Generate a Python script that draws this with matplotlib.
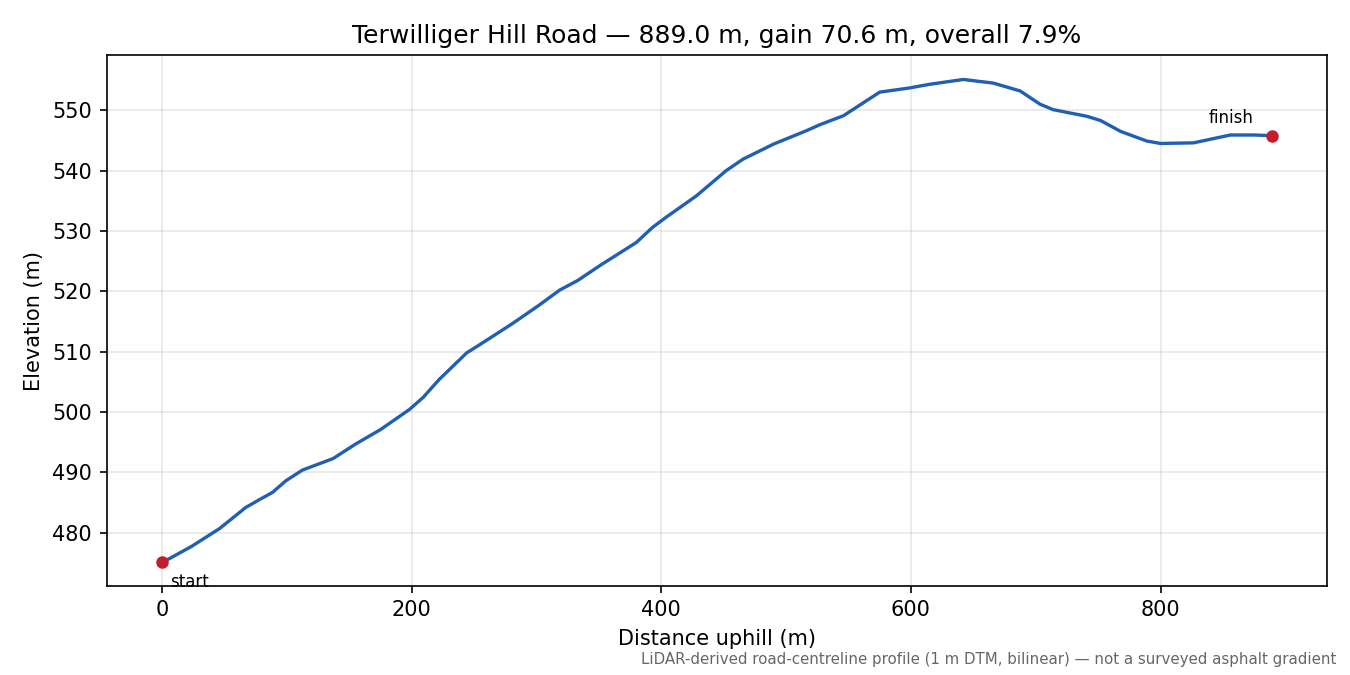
import matplotlib
matplotlib.use("Agg")
import matplotlib.pyplot as plt

# profile
distance_m = [0, 5.6, 24, 46, 67, 78, 88.5, 99, 112.5, 137, 155, 175, 198, 209,
              222, 244, 254, 281, 302, 318.5, 333, 351, 380, 393, 404, 428, 452,
              465.5, 490, 515, 527, 546, 575, 599, 615, 642, 666, 687.5, 703.5,
              714, 741, 752, 768, 789, 800, 826.5, 840, 856, 874.5, 889]
elevation_m = [475.2, 475.7, 477.8, 480.7, 484.2, 485.5, 486.7, 488.6, 490.4, 492.3,
               494.7, 497.1, 500.4, 502.4, 505.4, 509.8, 511.1, 514.7, 517.7, 520.2,
               521.8, 524.3, 528.1, 530.6, 532.3, 535.8, 540.0, 541.9, 544.4, 546.5,
               547.6, 549.1, 553.0, 553.7, 554.3, 555.1, 554.5, 553.2, 551.0, 550.1,
               549.0, 548.3, 546.5, 544.9, 544.5, 544.6, 545.2, 545.9, 545.9, 545.8]

road = "Terwilliger Hill Road"
length = 889.0
gain = 70.6
grade = 7.9

fig, ax = plt.subplots(figsize=(9, 4.5), dpi=150)
fig.subplots_adjust(left=0.079, right=0.983, top=0.918, bottom=0.132)

ax.plot(distance_m, elevation_m, color="#1f5fb4", lw=1.6)
ax.plot([distance_m[0], distance_m[-1]], [elevation_m[0], elevation_m[-1]],
        "o", color="#c41e2a", ms=5)
ax.annotate("start", (distance_m[0], elevation_m[0]), xytext=(4, -12),
            textcoords="offset points", fontsize=8)
ax.annotate("finish", (distance_m[-1], elevation_m[-1]), xytext=(-30, 6),
            textcoords="offset points", fontsize=8)

ax.grid(True, alpha=0.3)
ax.set_xlabel("Distance uphill (m)")
ax.set_ylabel("Elevation (m)")
ax.set_title(f"{road} — {length:.1f} m, gain {gain:.1f} m, overall {grade:.1f}%", fontsize=12)
fig.text(0.99, 0.012, "LiDAR-derived road-centreline profile (1 m DTM, bilinear) — not a surveyed asphalt gradient",
         ha="right", va="bottom", fontsize=7.2, color="#666666")

fig.savefig("out.png")
